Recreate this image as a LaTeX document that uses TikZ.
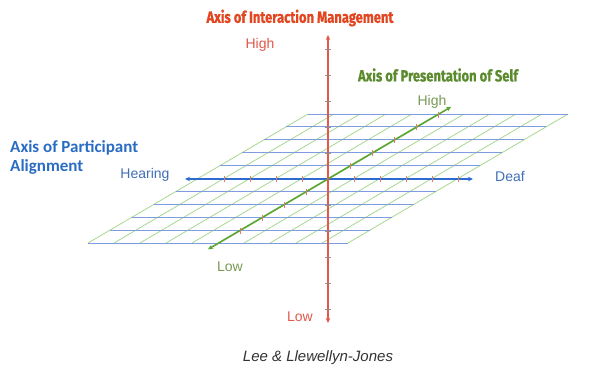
\documentclass[tikz,border=0pt]{standalone}
\usepackage{fontspec}
\setmainfont{Liberation Sans}
\newfontfamily\condfont[FakeStretch=0.8, BoldFeatures={FakeBold=0.8}]{Fira Sans}
\newfontfamily\carlito{Carlito}
\usetikzlibrary{arrows.meta}
\definecolor{redaxis}{HTML}{E2584A}
\definecolor{redtitle}{HTML}{E2451F}
\definecolor{blueaxis}{HTML}{2F6AD0}
\definecolor{bluegrid}{HTML}{7E9DE0}
\definecolor{greenaxis}{HTML}{5CA734}
\definecolor{greengrid}{HTML}{A8D890}
\definecolor{greentitle}{HTML}{5A8A2C}
\definecolor{greenlabel}{HTML}{789A55}
\definecolor{bluetitle}{HTML}{2A6CC4}
\definecolor{bluelabel}{HTML}{3F70B8}
\definecolor{ticktone}{HTML}{E07A70}
\definecolor{greytick}{HTML}{909090}
\tikzset{
  gridb/.style={bluegrid, line width=0.9pt},
  gridg/.style={greengrid, line width=0.8pt},
  axisline/.style={line width=1.6pt, {Stealth[length=5pt,width=4.5pt]}-{Stealth[length=5pt,width=4.5pt]}},
  title/.style={font=\condfont\bfseries\fontsize{16.2}{18}\selectfont, inner sep=0pt},
  lbl/.style={font=\fontsize{14}{16}\selectfont, inner sep=0pt},
}
\begin{document}
\begin{tikzpicture}[x=1pt,y=-1pt]
\useasboundingbox[fill=white] (0,0) rectangle (606,367);
% grid
\foreach \j in {0,...,10}
  \draw[gridg] ({88+26*\j},243) -- ({88+26*\j+220},114);
\foreach \i in {0,...,10}
  \draw[gridb] ({88+22*\i},{243-12.9*\i}) -- ({348+22*\i},{243-12.9*\i});
% coordinates
\coordinate (O) at (328,179);
\coordinate (hear) at (185,179);
\coordinate (deaf) at (473,179);
\coordinate (glow) at (208,249.3);
\coordinate (ghigh) at (451.2,106.8);
\coordinate (rhigh) at (328,35);
\coordinate (rlow) at (328,323);
% blue axis
\draw[axisline, blueaxis] (hear) -- (deaf);
\foreach \k in {-4,...,-1,1,2,3,4,5}
  \draw[ticktone, line width=0.6pt] ({328+26*\k},176) -- ({328+26*\k},182);
% green axis
\draw[axisline, greenaxis] (glow) -- (ghigh);
\foreach \k in {-4,...,-1,1,2,3,4,5}
  \draw[ticktone, line width=0.6pt] ({328+22*\k},{179-12.9*\k-3}) -- ({328+22*\k},{179-12.9*\k+3});
% red axis
\draw[axisline, redaxis] (rhigh) -- (rlow);
\foreach \k in {-5,...,-1,1,2,3,4,5}
  \draw[greytick, line width=0.6pt] (325,{179+26*\k}) -- (331,{179+26*\k});
% labels
\node[title, text=redtitle] (tim) at (300,18) {Axis of Interaction Management};
\node[title, text=greentitle] (tps) at (438,75) {Axis of Presentation of Self};
\node[font=\carlito\bfseries\fontsize{17}{19}\selectfont, text=bluetitle, align=left, anchor=north west, inner sep=0pt] (tpa) at (10,140) {Axis of Participant\\Alignment};
\node[lbl, text=redaxis] (rh) at (260,45) {High};
\node[lbl, text=redaxis] (rl) at (300,317) {Low};
\node[lbl, text=greenlabel] (gh) at (432,102) {High};
\node[lbl, text=greenlabel] (gl) at (230,267) {Low};
\node[lbl, text=bluelabel] (bh) at (145,175) {Hearing};
\node[lbl, text=bluelabel] (bd) at (510,177) {Deaf};
\node[font=\itshape\fontsize{15}{17}\selectfont, text=black!80, inner sep=0pt] (src) at (318,358) {Lee \& Llewellyn-Jones};
\end{tikzpicture}
\end{document}
